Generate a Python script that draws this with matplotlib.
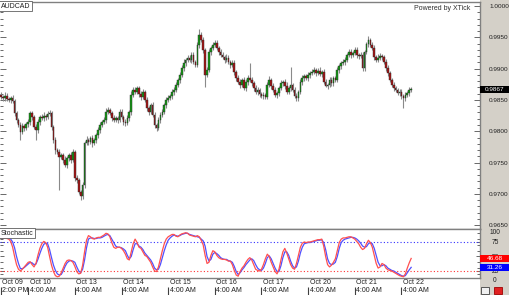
import matplotlib
matplotlib.use('Agg')
import matplotlib.pyplot as plt
import numpy as np
from matplotlib.patches import Rectangle
from matplotlib.ticker import MultipleLocator, FixedLocator
import matplotlib.transforms as mtransforms

plt.rcParams['font.family'] = ['Liberation Sans', 'DejaVu Sans']

# ---------------- data ----------------
symbol = "AUDCAD"
open0 = 0.9858
closes = [
    0.9855, 0.9853, 0.9857, 0.9851, 0.9850, 0.9853, 0.9848, 0.9829, 0.9818, 0.9810,
    0.9799, 0.9808, 0.9805, 0.9811, 0.9815, 0.9829, 0.9822, 0.9806, 0.9802, 0.9815,
    0.9823, 0.9821, 0.9825, 0.9823, 0.9828, 0.9829, 0.9807, 0.9786, 0.9770, 0.9767,
    0.9759, 0.9762, 0.9754, 0.9746, 0.9757, 0.9762, 0.9754, 0.9767, 0.9725, 0.9722,
    0.9703, 0.9697, 0.9714, 0.9781, 0.9786, 0.9783, 0.9789, 0.9781, 0.9786, 0.9794,
    0.9802, 0.9810, 0.9815, 0.9818, 0.9831, 0.9834, 0.9829, 0.9821, 0.9818, 0.9821,
    0.9818, 0.9831, 0.9823, 0.9815, 0.9813, 0.9821, 0.9831, 0.9858, 0.9866, 0.9863,
    0.9869, 0.9859, 0.9855, 0.9863, 0.9850, 0.9837, 0.9831, 0.9842, 0.9826, 0.9810,
    0.9805, 0.9818, 0.9826, 0.9831, 0.9842, 0.9850, 0.9853, 0.9856, 0.9863, 0.9866,
    0.9874, 0.9882, 0.9890, 0.9901, 0.9909, 0.9914, 0.9917, 0.9914, 0.9922, 0.9911,
    0.9906, 0.9938, 0.9954, 0.9946, 0.9930, 0.9890, 0.9898, 0.9927, 0.9933, 0.9938,
    0.9941, 0.9933, 0.9927, 0.9922, 0.9919, 0.9914, 0.9917, 0.9911, 0.9906, 0.9909,
    0.9895, 0.9885, 0.9879, 0.9874, 0.9882, 0.9869, 0.9879, 0.9885, 0.9882, 0.9877,
    0.9869, 0.9863, 0.9866, 0.9859, 0.9856, 0.9858, 0.9855, 0.9874, 0.9882, 0.9873,
    0.9866, 0.9858, 0.9861, 0.9869, 0.9877, 0.9879, 0.9873, 0.9863, 0.9869, 0.9874,
    0.9866, 0.9856, 0.9853, 0.9863, 0.9879, 0.9885, 0.9888, 0.9885, 0.9890, 0.9893,
    0.9895, 0.9898, 0.9893, 0.9897, 0.9892, 0.9895, 0.9879, 0.9873, 0.9874, 0.9882,
    0.9877, 0.9885, 0.9882, 0.9898, 0.9904, 0.9909, 0.9911, 0.9914, 0.9922, 0.9927,
    0.9922, 0.9925, 0.9930, 0.9922, 0.9920, 0.9922, 0.9901, 0.9927, 0.9939, 0.9946,
    0.9938, 0.9933, 0.9919, 0.9914, 0.9917, 0.9920, 0.9919, 0.9911, 0.9901, 0.9893,
    0.9882, 0.9874, 0.9869, 0.9866, 0.9861, 0.9863, 0.9856, 0.9853, 0.9858, 0.9861,
    0.9866, 0.9867,
]
# wick extensions (pips) above / below the candle body
wick_hi = [
    4,3,5,4,3,4,5,3,4,3, 4,5,3,4,5,4,3,4,5,4, 3,4,5,3,4,5,4,3,5,4,
    5,4,3,6,4,3,5,4,3,5, 4,3,5,4,6,3,4,5,4,3, 5,4,3,4,6,5,3,4,5,4,
    3,5,4,3,4,5,3,6,4,5, 4,3,5,4,3,5,4,3,4,5, 3,4,5,4,3,4,5,3,4,5,
    4,3,5,4,6,3,4,5,4,5, 3,5,9,4,5,3,4,5,3,4, 5,4,3,5,4,3,6,4,3,5,
    4,3,5,4,3,5,4,5,24,4, 3,5,4,3,4,5,3,4,6,3, 4,5,3,4,5,3,4,5,4,29,
    3,4,5,3,4,5,4,3,5,4, 4,5,3,4,5,3,4,5,3,4, 5,3,4,5,4,3,5,4,3,5,
    4,3,5,4,3,5,4,3,4,6, 3,4,5,3,6,5,4,3,4,5, 4,3,5,4,3,4,5,3,4,3,
    4,3,
]
wick_lo = [
    3,4,5,3,4,5,3,4,5,4, 13,4,5,3,4,5,4,3,16,4, 5,3,4,5,3,4,5,4,6,3,
    53,4,5,3,4,5,4,3,5,4, 4,7,5,4,3,5,4,6,3,4, 4,5,3,4,5,4,3,5,4,3,
    5,4,3,5,4,3,4,5,3,4, 3,4,5,4,3,4,5,3,4,5, 4,3,5,4,3,5,4,3,4,5,
    3,4,5,3,4,5,3,4,5,4, 4,3,5,4,5,19,4,3,5,4, 3,4,5,3,4,5,4,3,5,4,
    5,4,3,5,4,3,4,5,3,4, 4,3,5,4,3,5,4,3,4,5, 3,4,5,4,3,4,5,3,4,5,
    4,3,5,4,3,5,4,3,4,5, 3,4,5,3,4,5,4,3,5,4, 4,5,3,4,5,4,3,5,4,3,
    5,4,3,5,4,3,4,5,3,4, 3,4,5,4,3,4,5,3,4,5, 4,3,5,4,3,5,4,16,4,3,
    4,3,
]
# stochastic %K (red) and %D (blue)
stoch_k = [
    82,82,82,81,80,76,66,50,36,28, 25,28,32,36,40,41,36,32,38,52,
    64,72,76,74,66,50,35,24,17,15, 16,22,30,38,43,44,43,40,33,24,
    20,21,35,58,78,86,84,81,80,82, 83,83,85,87,90,89,84,74,66,64,
    66,66,64,60,54,46,44,58,72,80, 74,66,64,58,52,50,45,40,32,25,
    24,32,46,60,72,80,84,86,88,88, 85,84,87,89,90,91,90,87,86,85,
    84,86,84,78,70,52,38,40,52,60, 58,52,48,46,45,45,44,42,42,36,
    26,18,16,24,30,34,40,45,48,44, 36,28,26,25,28,36,46,54,50,40,
    32,24,20,28,44,58,64,56,46,36, 30,28,38,52,66,73,75,74,75,75,
    76,77,78,79,79,80,68,50,36,32, 35,40,46,60,74,80,82,82,83,84,
    84,82,80,76,72,66,62,64,72,78, 74,66,52,38,30,32,38,36,30,27,
    26,25,23,21,19,17,16,15,20,30, 39,46.68,
]
stoch_d = [
    82,82,82,82,81,80,75,65,50,38, 29,29,31,34,37,40,39,36,37,45,
    55,64,71,73,72,62,48,35,26,20, 18,19,25,33,39,42,43,42,40,32,
    25,22,28,44,65,80,82,82,81,81, 82,82,83,85,87,88,86,80,74,68,
    66,66,65,63,60,52,46,50,62,72, 72,68,66,62,56,52,48,44,38,30,
    27,28,36,48,60,70,78,82,85,87, 86,85,86,88,89,90,90,88,87,86,
    85,84,83,80,77,68,50,42,45,54, 57,55,52,48,46,45,45,43,42,40,
    33,24,19,22,27,31,36,40,44,46, 43,36,30,27,26,30,38,48,51,46,
    38,30,24,24,34,48,58,58,52,42, 34,30,32,42,56,66,72,73,74,74,
    75,76,77,78,78,79,74,62,46,38, 36,37,40,50,64,74,78,80,81,82,
    83,83,82,80,77,73,68,66,67,72, 74,72,64,52,40,34,34,36,34,30,
    28,26,25,23,21,19,17,16,17,22, 27,31.26,
]
stoch_levels = [75, 25]
date_tick_idx = [0, 14, 38, 62, 86, 110, 134, 158, 182, 206]
date_row1 = ['Oct 09', 'Oct 10', 'Oct 13', 'Oct 14', 'Oct 15', 'Oct 16',
             'Oct 17', 'Oct 20', 'Oct 21', 'Oct 22']
date_row2 = ['2:00 PM'] + ['4:00 AM'] * 9
price_ticks = [1.0000, 0.9950, 0.9900, 0.9850, 0.9800, 0.9750, 0.9700, 0.9650]
stoch_ticks = [75, 50, 25]

# ---------------- figure ----------------
W, H = 510, 295
fig = plt.figure(figsize=(W / 100, H / 100), dpi=100)
fig.patch.set_facecolor('white')

def fx(px):
    return px / W

def fy(py):
    return 1 - py / H

panel_col = '#d4d0c8'
fig.patches.append(Rectangle((fx(480), 0), 1 - fx(480), 1, transform=fig.transFigure,
                             facecolor=panel_col, edgecolor='none', zorder=-5))

ax = fig.add_axes([0, fy(229), fx(480), (229 - 2) / H])
axs = fig.add_axes([0, fy(278), fx(480), (278 - 229) / H])

n = len(closes)
idx = np.arange(n)
c = np.array(closes)
o = np.r_[open0, c[:-1]]
up = c >= o
top = np.maximum(o, c)
bot = np.minimum(o, c)
hi = top + np.array(wick_hi) * 0.0001
lo = bot - np.array(wick_lo) * 0.0001
heights = np.maximum(top - bot, 0.00006)

ax.vlines(idx, lo, hi, color='#8a8a8a', lw=0.8, zorder=2)
ax.bar(idx, heights, bottom=bot, width=0.85,
       color=np.where(up, '#149a14', '#a81414'),
       edgecolor='#2a2a2a', linewidth=0.3, zorder=3)

xlim = (-0.5, 246.4)
ax.set_xlim(*xlim)
ax.set_ylim(0.96439, 1.00064)
ax.set_xticks([])
ax.yaxis.tick_right()
ax.yaxis.set_major_locator(FixedLocator(price_ticks))
ax.set_yticklabels([f'{v:.4f}' for v in price_ticks])
ax.yaxis.set_minor_locator(MultipleLocator(0.001))
ax.tick_params(axis='y', which='both', left=True, right=True, direction='in',
               color='#505050', width=0.6)
ax.tick_params(axis='y', which='major', length=4, labelsize=4.6, pad=6.5,
               labelcolor='#202020')
ax.tick_params(axis='y', which='minor', length=2.5)
ax.spines['left'].set_visible(False)
for s in ['top', 'right', 'bottom']:
    ax.spines[s].set_color('#808080')
    ax.spines[s].set_linewidth(1.0)

ax.text(0.002, 0.997, symbol, transform=ax.transAxes, ha='left', va='top',
        fontsize=5, color='#202020',
        bbox=dict(boxstyle='square,pad=0.25', facecolor='white',
                  edgecolor='#606060', linewidth=0.6), zorder=6)
ax.text(0.979, 0.985, 'Powered by XTick', transform=ax.transAxes, ha='right',
        va='top', fontsize=5, color='#303030')

# last price box
bt = mtransforms.blended_transform_factory(ax.transAxes, ax.transData)
ax.add_patch(Rectangle((1.0, c[-1] - 0.00052), 30 / 480, 0.00104, transform=bt,
                       facecolor='black', edgecolor='none', clip_on=False, zorder=5))
ax.text(1.0 + 15 / 480, c[-1], f'{c[-1]:.4f}', transform=bt, ha='center',
        va='center', fontsize=4.6, color='white', clip_on=False, zorder=6)

# ---------------- stochastic ----------------
axs.plot(idx, stoch_d, color='#5050ff', lw=0.9, zorder=3)
axs.plot(idx, stoch_k, color='#ff5050', lw=0.9, zorder=4)
axs.axhline(stoch_levels[0], color='#3030ff', lw=0.8, ls=(0, (1, 2)), zorder=2)
axs.axhline(stoch_levels[1], color='#ff3030', lw=0.8, ls=(0, (1, 2)), zorder=2)
axs.set_xlim(*xlim)
axs.set_ylim(12.9, 97.4)
axs.set_xticks([])
axs.yaxis.tick_right()
axs.set_yticks(stoch_ticks)
axs.set_yticklabels([str(v) for v in stoch_ticks])
axs.yaxis.set_minor_locator(MultipleLocator(10))
axs.tick_params(axis='y', which='both', left=True, right=True, direction='in',
                color='#505050', width=0.6)
axs.tick_params(axis='y', which='major', length=3, labelsize=4.8, pad=11,
                labelcolor='#202020')
axs.tick_params(axis='y', which='minor', length=2)
for lab in axs.get_yticklabels():
    lab.set_horizontalalignment('center')
axs.spines['left'].set_visible(False)
for s in ['top', 'right', 'bottom']:
    axs.spines[s].set_color('#808080')
    axs.spines[s].set_linewidth(1.0)

axs.text(1.0 + 15 / 480, (278 - 233) / 49, '100', transform=axs.transAxes,
         ha='center', va='center', fontsize=4.8, color='#202020', clip_on=False)
axs.text(1.0 + 15 / 480, (278 - 280) / 49, '0', transform=axs.transAxes,
         ha='center', va='center', fontsize=4.8, color='#202020', clip_on=False)

axs.text(0.002, 0.985, 'Stochastic', transform=axs.transAxes, ha='left', va='top',
         fontsize=5, color='#202020',
         bbox=dict(boxstyle='square,pad=0.25', facecolor='white',
                   edgecolor='#606060', linewidth=0.6), zorder=6)

bts = mtransforms.blended_transform_factory(axs.transAxes, axs.transData)
for val, col in [(stoch_k[-1], '#ff0000'), (stoch_d[-1], '#0000ff')]:
    axs.add_patch(Rectangle((1.0, val - 6), 30 / 480, 12, transform=bts,
                            facecolor=col, edgecolor='none', clip_on=False, zorder=7))
    axs.text(1.0 + 15 / 480, val, f'{val:.2f}', transform=bts, ha='center',
             va='center', fontsize=4.6, color='white', clip_on=False, zorder=8)

# ---------------- date axis ----------------
bxa = mtransforms.blended_transform_factory(axs.transData, axs.transAxes)
off = mtransforms.ScaledTranslation(1.5 / 100, 0, fig.dpi_scale_trans)
for i, r1, r2 in zip(date_tick_idx, date_row1, date_row2):
    axs.text(i, (278 - 282.5) / 49, r1, transform=bxa + off, ha='left', va='center',
             fontsize=5, color='#202020', clip_on=False)
    axs.text(i, (278 - 291) / 49, r2, transform=bxa + off, ha='left', va='center',
             fontsize=5, color='#202020', clip_on=False)
axs.vlines(date_tick_idx, (278 - 286.5) / 49, (278 - 296) / 49, transform=bxa,
           color='#404040', lw=0.8, clip_on=False)

# small buttons bottom right
fig.patches.append(Rectangle((fx(481), fy(294)), fx(8), 7 / H, transform=fig.transFigure,
                             facecolor='#f0f0f0', edgecolor='#404040', lw=0.6, zorder=5))
fig.patches.append(Rectangle((fx(494), fy(294)), fx(8), 7 / H, transform=fig.transFigure,
                             facecolor='#e02020', edgecolor='#a00000', lw=0.6, zorder=5))

fig.savefig('out.png', dpi=100)
